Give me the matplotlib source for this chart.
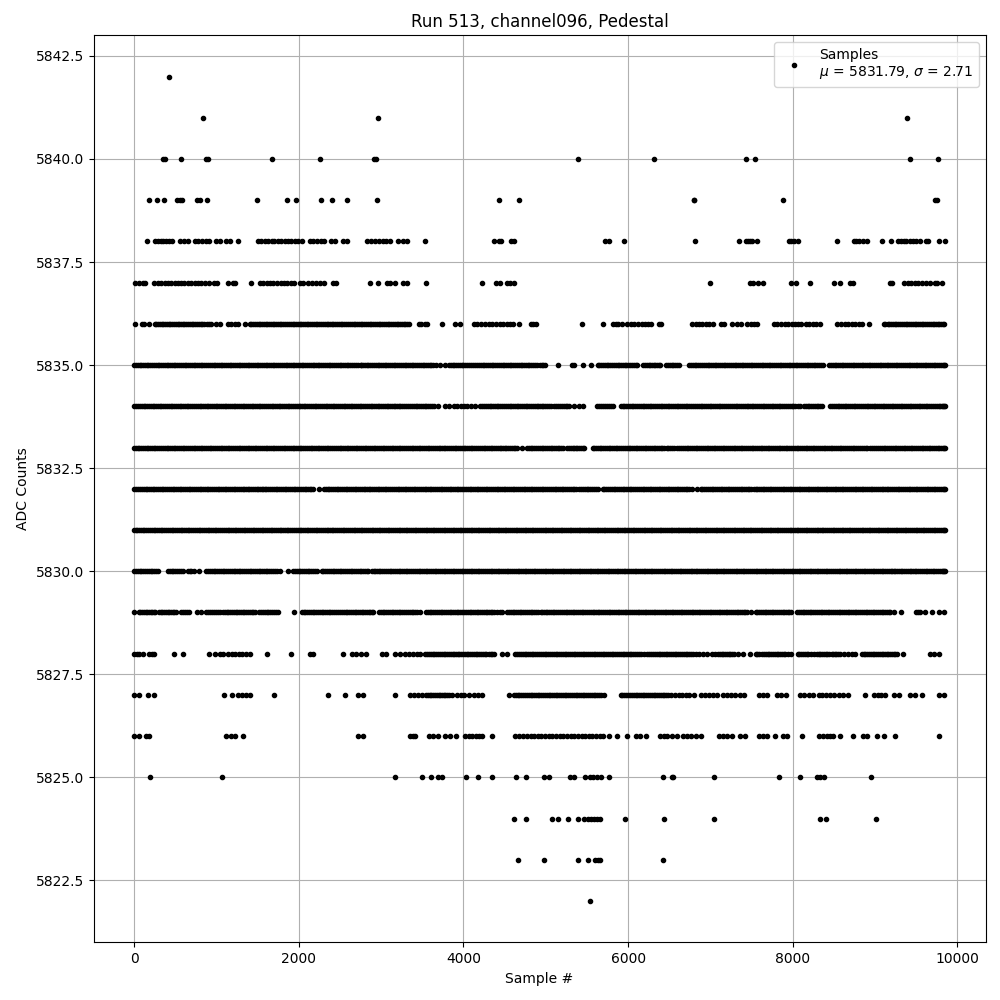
import numpy as np
import matplotlib
matplotlib.use("Agg")
import matplotlib.pyplot as plt

# sample numbers, one list per ADC level
s_5842 = [430]
s_5841 = [836, 2968, 9381]
s_5840 = [350, 380, 568, 870, 893, 1677, 2261, 2915, 2940, 5394, 6315, 7430, 7539, 9418, 9769]
s_5839 = [179, 276, 361, 520, 552, 580, 763, 804, 885, 1494, 1859, 1961, 2274, 2408, 2590, 2956,
          4429, 4673, 6795, 6805, 7879, 9721, 9749]
s_5838 = [154, 260, 290, 325, 350, 385, 420, 455, 564, 610, 650, 740, 780, 830, 870, 910, 999, 1047,
          1112, 1161, 1263, 1510, 1545, 1590, 1625, 1670, 1705, 1750, 1790, 1830, 1865, 1910, 1950, 1990, 2034,
          2136, 2175, 2220, 2265, 2306, 2387, 2444, 2541, 2590, 2834, 2875, 2930, 2975, 3020, 3065, 3110,
          3203, 3272, 3313, 3528, 4369, 4429, 4460, 4580, 4612, 5721, 5770, 5952, 6812, 7345, 7426, 7450,
          7480, 7510, 7560, 7951, 7980, 8010, 8060, 8533, 8739, 8770, 8800, 8850, 8900, 9078, 9187,
          9272, 9310, 9345, 9380, 9420, 9455, 9500, 9547, 9620, 9640, 9773, 9846]
s_5837 = [16, 57, 114, 138, 248, 285, 330, 370, 410, 450, 495, 530, 575, 610, 655, 690, 735, 775, 815, 860, 910,
          975, 1007, 1137, 1202, 1225, 1421, 1527, 1565, 1610, 1650, 1689, 1738, 1780, 1820, 1860, 1900, 1941,
          2010, 2050, 2115, 2160, 2205, 2260, 2306, 2420, 2452, 2866, 2960, 3069, 3110, 3171, 3264, 3313, 3540,
          4222, 4401, 4442, 4531, 4570, 4612, 6994, 7479, 7520, 7576, 7636, 7980, 8036, 8206, 8505, 8569,
          8699, 8731, 9175, 9204, 9353, 9400, 9440, 9485, 9520, 9570, 9620, 9668, 9729, 9757, 9810]
s_5836 = [16, 97, 126, 179, 250, 290, 335, 375, 420, 460, 505, 550, 590, 635, 680, 720, 765, 810, 850, 880, 910,
          940, 1000, 1047, 1141, 1181, 1220, 1263, 1344, 1405, 1450, 1490, 1535, 1580, 1620, 1660, 1705, 1750, 1790,
          1835, 1880, 1925, 1965, 2010, 2055, 2095, 2140, 2185, 2225, 2270, 2315, 2360, 2400, 2445, 2490, 2530,
          2575, 2620, 2665, 2705, 2750, 2795, 2840, 2880, 2925, 2970, 3015, 3055, 3100, 3145, 3190, 3230, 3275,
          3313, 3345, 3455, 3490, 3530, 3556, 3739, 3900, 3954, 4125, 4170, 4215, 4267, 4308, 4350, 4395, 4440,
          4480, 4525, 4565, 4604, 4673, 4815, 4850, 4876, 5438, 5697, 5822, 5850, 5879, 5931, 5985, 6030, 6075,
          6120, 6165, 6210, 6245, 6275, 6380, 6400, 6780, 6820, 6860, 6900, 6945, 6982, 7030, 7123, 7163, 7260,
          7325, 7373, 7446, 7490, 7530, 7568, 7770, 7810, 7855, 7900, 7945, 7985, 8030, 8065, 8100, 8157, 8200,
          8245, 8285, 8327, 8533, 8590, 8630, 8675, 8720, 8760, 8805, 8840, 8929, 9103, 9150, 9195, 9235, 9280,
          9325, 9370, 9410, 9455, 9500, 9545, 9585, 9630, 9675, 9720, 9760, 9800, 9838]
s_5836b = [272, 312, 355, 398, 440, 482, 528, 570, 612, 658, 700, 742, 788, 830, 1425, 1470, 1512, 1558, 1600, 1640,
           1682, 1728, 1770, 1812, 1858, 1902, 1945, 1988, 2032, 2075, 2118, 2162, 2205, 2248, 2292, 2338, 2380,
           2422, 2468, 2510, 2552, 2598, 2642, 2685, 2728, 2772, 2818, 2860, 2902, 2948, 2992, 3035, 3078, 3122,
           3168, 3210, 3252, 3295, 9125, 9172, 9215, 9258, 9302, 9348, 9390, 9432, 9478, 9522, 9565, 9608, 9652,
           9698, 9740, 9780, 9820]
s_5835 = [5, 45, 90, 130, 175, 220, 265, 305, 350, 395, 440, 480, 525, 570, 615, 655, 700, 745, 790, 830, 875,
          920, 965, 1005, 1050, 1095, 1140, 1180, 1225, 1270, 1315, 1355, 1400, 1445, 1490, 1530, 1575, 1620, 1665,
          1705, 1750, 1795, 1840, 1880, 1925, 1970, 2015, 2055, 2100, 2145, 2190, 2230, 2275, 2320, 2365, 2405,
          2450, 2495, 2540, 2580, 2625, 2670, 2715, 2760, 2805, 2845, 2890, 2935, 2980, 3020, 3065, 3110, 3155,
          3195, 3240, 3285, 3330, 3370, 3415, 3460, 3505, 3545, 3590, 3630, 3665, 3710, 3775, 3825, 3870, 3910,
          3955, 4000, 4045, 4090, 4140, 4170, 4210, 4255, 4300, 4345, 4385, 4430, 4475, 4520, 4560, 4605, 4650,
          4695, 4735, 4780, 4825, 4870, 4930, 4950, 4995, 5144, 5320, 5340, 5447, 5547, 5630, 5675, 5720, 5760,
          5805, 5850, 5895, 5935, 5980, 6025, 6070, 6105, 6180, 6225, 6270, 6310, 6355, 6390, 6460, 6505, 6550,
          6590, 6612, 6745, 6790, 6830, 6875, 6920, 6965, 7005, 7050, 7095, 7140, 7180, 7225, 7270, 7315, 7355,
          7400, 7445, 7490, 7530, 7575, 7620, 7665, 7705, 7750, 7795, 7840, 7880, 7925, 7970, 8015, 8055, 8100,
          8145, 8190, 8230, 8275, 8320, 8365, 8440, 8485, 8530, 8570, 8615, 8660, 8705, 8745, 8790, 8835, 8880,
          8920, 8965, 9010, 9055, 9095, 9140, 9185, 9230, 9270, 9315, 9360, 9405, 9445, 9490, 9535, 9580, 9620,
          9665, 9710, 9755, 9795, 9838, 9850]
s_5835b = [25, 68, 112, 152, 198, 242, 285, 328, 372, 418, 460, 502, 548, 592, 635, 678, 722, 768, 810, 852, 898,
           942, 985, 1028, 1072, 1118, 1160, 1202, 1248, 1292, 1335, 1378, 1422, 1468, 1510, 1552, 1598, 1642,
           1685, 1728, 1772, 1818, 1860, 1902, 1948, 1992, 2035, 2078, 2122, 2168, 2210, 2252, 2298, 2342, 2385,
           2428, 2472, 2518, 2560, 2602, 2648, 2692, 2760, 2782, 2825, 2868, 2912, 2958, 3000, 3042, 3088, 3132,
           3175, 3218, 3262, 3308, 3350, 3392, 3438, 3482, 3525, 3568, 3612, 3848, 3890, 3932, 3978, 4022, 4068,
           4115, 4190, 4232, 4278, 4322, 4365, 4408, 4452, 4498, 4540, 4582, 4628, 4672, 4715, 4758, 4802, 4848,
           4890, 4972, 5652, 5698, 5740, 5782, 5828, 5872, 5915, 5958, 6002, 6048, 6090, 6202, 6248, 6290, 6332,
           6372, 6482, 6528, 6570, 6768, 6810, 6852, 6898, 6942, 6985, 7028, 7072, 7118, 7160, 7202, 7248, 7292,
           7335, 7378, 7422, 7468, 7510, 7552, 7598, 7642, 7685, 7728, 7772, 7818, 7860, 7902, 7948, 7992, 8035,
           8078, 8122, 8168, 8210, 8252, 8298, 8342, 8462, 8508, 8550, 8592, 8638, 8682, 8725, 8768, 8812, 8858,
           8900, 8942, 8988, 9032, 9075, 9118, 9162, 9208, 9250, 9292, 9338, 9382, 9425, 9468, 9512, 9558, 9600,
           9642, 9688, 9732, 9775, 9818]
s_5834 = [5, 50, 95, 135, 180, 225, 270, 310, 355, 400, 445, 485, 530, 575, 620, 660, 705, 750, 795, 835, 880,
          925, 970, 1010, 1055, 1100, 1145, 1185, 1230, 1275, 1320, 1360, 1405, 1450, 1495, 1535, 1580, 1625, 1670,
          1710, 1755, 1800, 1845, 1885, 1930, 1975, 2020, 2060, 2105, 2150, 2195, 2235, 2280, 2325, 2370, 2410,
          2455, 2500, 2545, 2585, 2630, 2675, 2720, 2760, 2805, 2850, 2895, 2935, 2980, 3025, 3070, 3110, 3155,
          3190, 3235, 3280, 3330, 3354, 3374, 3420, 3465, 3510, 3550, 3595, 3638, 3686, 3780, 3825, 3881, 3922,
          3965, 4003, 4044, 4090, 4145, 4206, 4250, 4295, 4340, 4385, 4425, 4470, 4515, 4560, 4600, 4645, 4690,
          4735, 4775, 4820, 4865, 4910, 4950, 4995, 5040, 5063, 5103, 5150, 5195, 5240, 5285, 5346, 5400, 5447,
          5628, 5675, 5720, 5765, 5822, 5911, 5955, 6000, 6045, 6085, 6130, 6175, 6220, 6260, 6305, 6350, 6395,
          6416, 6436, 6480, 6525, 6570, 6610, 6655, 6700, 6739, 6768, 6815, 6860, 6900, 6945, 6990, 7035, 7075,
          7120, 7164, 7192, 7240, 7285, 7325, 7370, 7415, 7460, 7500, 7545, 7590, 7635, 7675, 7720, 7765, 7810,
          7850, 7895, 7940, 7985, 8025, 8093, 8133, 8180, 8225, 8265, 8310, 8355, 8456, 8500, 8545, 8585, 8630,
          8675, 8720, 8760, 8805, 8850, 8895, 8935, 8980, 9025, 9070, 9110, 9155, 9200, 9245, 9285, 9330, 9375,
          9420, 9460, 9505, 9550, 9595, 9635, 9680, 9725, 9770, 9810, 9838, 9850]
s_5834b = [28, 72, 115, 158, 202, 248, 290, 332, 378, 422, 465, 508, 552, 598, 640, 682, 728, 772, 815, 858, 902,
           948, 990, 1032, 1078, 1122, 1165, 1208, 1252, 1298, 1340, 1382, 1428, 1472, 1515, 1558, 1602, 1648,
           1690, 1732, 1778, 1822, 1865, 1908, 1952, 1998, 2040, 2082, 2128, 2172, 2215, 2258, 2302, 2348, 2390,
           2432, 2478, 2522, 2565, 2608, 2652, 2698, 2740, 2782, 2828, 2872, 2915, 2958, 3002, 3048, 3090, 3132,
           3172, 3212, 3258, 3305, 3398, 3442, 3488, 3530, 3572, 3615, 4228, 4272, 4318, 4362, 4405, 4448, 4492,
           4538, 4580, 4622, 4668, 4712, 4755, 4798, 4842, 4888, 4930, 4972, 5018, 5125, 5172, 5218, 5262, 5650,
           5698, 5742, 5795, 5932, 5978, 6022, 6065, 6108, 6152, 6198, 6240, 6282, 6328, 6372, 6458, 6502, 6548,
           6590, 6632, 6678, 6720, 6790, 6838, 6880, 6922, 6968, 7012, 7055, 7098, 7142, 7215, 7262, 7305, 7348,
           7392, 7438, 7480, 7522, 7568, 7612, 7655, 7698, 7742, 7788, 7830, 7872, 7918, 7962, 8005, 8060, 8155,
           8202, 8245, 8288, 8332, 8478, 8522, 8565, 8608, 8652, 8698, 8740, 8782, 8828, 8872, 8915, 8958, 9002,
           9048, 9090, 9132, 9178, 9222, 9265, 9308, 9352, 9398, 9440, 9482, 9528, 9572, 9615, 9658, 9702, 9748,
           9790, 9825]
s_5833 = [5, 45, 85, 130, 175, 220, 260, 305, 350, 395, 435, 480, 525, 570, 610, 655, 700, 745, 785, 830, 875,
          920, 960, 1005, 1050, 1095, 1135, 1180, 1225, 1270, 1310, 1355, 1400, 1445, 1485, 1530, 1575, 1620, 1660,
          1705, 1750, 1795, 1835, 1880, 1925, 1970, 2010, 2055, 2100, 2145, 2185, 2230, 2275, 2320, 2360, 2405,
          2450, 2495, 2535, 2580, 2625, 2670, 2710, 2755, 2800, 2845, 2885, 2930, 2975, 3020, 3060, 3105, 3150,
          3195, 3235, 3280, 3325, 3370, 3410, 3455, 3500, 3545, 3585, 3630, 3675, 3720, 3760, 3805, 3850, 3895,
          3935, 3980, 4025, 4070, 4110, 4155, 4200, 4245, 4285, 4330, 4375, 4420, 4460, 4500, 4545, 4590, 4630,
          4653, 4714, 4775, 4815, 4860, 4905, 4950, 4990, 5035, 5080, 5125, 5165, 5204, 5257, 5305, 5345, 5385,
          5425, 5467, 5568, 5610, 5655, 5695, 5740, 5785, 5830, 5870, 5915, 5960, 6005, 6045, 6090, 6135, 6180,
          6220, 6265, 6310, 6350, 6395, 6436, 6469, 6510, 6560, 6598, 6618, 6665, 6710, 6755, 6800, 6840, 6885,
          6930, 6975, 7015, 7060, 7105, 7150, 7190, 7235, 7280, 7325, 7365, 7410, 7455, 7500, 7540, 7585, 7630,
          7675, 7715, 7760, 7805, 7850, 7890, 7935, 7980, 8025, 8065, 8110, 8155, 8200, 8240, 8285, 8330, 8375,
          8415, 8460, 8505, 8550, 8590, 8635, 8680, 8725, 8765, 8820, 8865, 8905, 8961, 8982, 9040, 9080, 9125,
          9170, 9215, 9255, 9300, 9345, 9390, 9430, 9475, 9520, 9565, 9605, 9650, 9695, 9740, 9780, 9838, 9850]
s_5833b = [25, 65, 108, 152, 198, 240, 282, 328, 372, 415, 458, 502, 548, 590, 632, 678, 722, 765, 808, 852, 898,
           940, 982, 1028, 1072, 1115, 1158, 1202, 1248, 1290, 1332, 1378, 1422, 1465, 1508, 1552, 1598, 1640,
           1682, 1728, 1772, 1815, 1858, 1902, 1948, 1990, 2032, 2078, 2122, 2165, 2208, 2252, 2298, 2340, 2382,
           2428, 2472, 2515, 2558, 2602, 2648, 2690, 2732, 2778, 2822, 2865, 2908, 2952, 2998, 3040, 3082, 3128,
           3172, 3215, 3258, 3302, 3348, 3390, 3432, 3478, 3522, 3565, 3608, 3652, 3698, 3740, 3782, 3828, 3872,
           3915, 3958, 4002, 4048, 4090, 4132, 4178, 4222, 4265, 4308, 4352, 4398, 4440, 4480, 4522, 4568, 4610,
           4795, 4838, 4882, 4928, 4970, 5012, 5058, 5102, 5145, 5185, 5280, 5325, 5365, 5405, 5448, 5590, 5632,
           5675, 5718, 5762, 5808, 5850, 5892, 5938, 5982, 6025, 6068, 6112, 6158, 6200, 6242, 6288, 6330, 6372,
           6415, 6490, 6535, 6640, 6688, 6732, 6778, 6820, 6862, 6908, 6952, 6995, 7038, 7082, 7128, 7170, 7212,
           7258, 7302, 7345, 7388, 7432, 7478, 7520, 7562, 7608, 7652, 7695, 7738, 7782, 7828, 7870, 7912, 7958,
           8002, 8045, 8088, 8132, 8178, 8220, 8262, 8308, 8352, 8395, 8438, 8482, 8528, 8570, 8612, 8658, 8702,
           8745, 8792, 8842, 8885, 8932, 9010, 9060, 9102, 9148, 9192, 9235, 9278, 9322, 9368, 9410, 9452, 9498,
           9542, 9585, 9628, 9672, 9718, 9760, 9800, 9820]
s_5832 = [5, 50, 95, 140, 180, 225, 270, 315, 355, 400, 445, 490, 530, 575, 620, 665, 705, 750, 795, 840, 880,
          925, 970, 1015, 1055, 1100, 1145, 1190, 1230, 1275, 1320, 1360, 1400, 1445, 1490, 1530, 1567, 1587, 1630,
          1675, 1720, 1765, 1805, 1850, 1895, 1940, 1980, 2025, 2070, 2115, 2150, 2176, 2249, 2306, 2350, 2395,
          2440, 2480, 2525, 2570, 2615, 2655, 2700, 2745, 2790, 2830, 2866, 2887, 2935, 2980, 3025, 3065, 3110,
          3155, 3200, 3240, 3285, 3330, 3375, 3415, 3460, 3505, 3550, 3590, 3635, 3680, 3725, 3765, 3810, 3855,
          3900, 3940, 3985, 4030, 4075, 4115, 4160, 4205, 4250, 4290, 4335, 4380, 4425, 4465, 4510, 4555, 4600,
          4640, 4685, 4730, 4775, 4815, 4860, 4905, 4950, 4990, 5035, 5085, 5130, 5170, 5215, 5260, 5305, 5345,
          5366, 5406, 5450, 5495, 5540, 5580, 5608, 5636, 5689, 5735, 5780, 5825, 5865, 5910, 5955, 6000, 6040,
          6085, 6130, 6175, 6215, 6260, 6305, 6350, 6390, 6435, 6480, 6525, 6565, 6610, 6655, 6700, 6739, 6780,
          6840, 6881, 6925, 6970, 7015, 7055, 7100, 7145, 7190, 7230, 7275, 7320, 7365, 7405, 7450, 7487, 7527,
          7570, 7588, 7608, 7655, 7700, 7740, 7785, 7830, 7875, 7915, 7960, 8005, 8050, 8090, 8135, 8180, 8225,
          8265, 8310, 8355, 8400, 8440, 8485, 8530, 8575, 8615, 8660, 8705, 8750, 8790, 8835, 8880, 8925, 8965,
          9010, 9055, 9100, 9140, 9185, 9230, 9275, 9315, 9360, 9405, 9450, 9490, 9535, 9580, 9625, 9665, 9710,
          9755, 9800, 9838, 9850]
s_5832b = [28, 72, 118, 160, 202, 248, 292, 335, 378, 422, 468, 510, 552, 598, 642, 685, 728, 772, 818, 860, 902,
           948, 992, 1035, 1078, 1122, 1168, 1210, 1252, 1298, 1340, 1380, 1422, 1468, 1510, 1550, 1608, 1652,
           1698, 1742, 1785, 1828, 1872, 1918, 1960, 2002, 2048, 2092, 2132, 2328, 2372, 2418, 2460, 2502, 2548,
           2592, 2635, 2678, 2722, 2768, 2810, 2848, 2910, 2958, 3002, 3045, 3088, 3132, 3178, 3220, 3262, 3308,
           3352, 3395, 3438, 3482, 3528, 3570, 3612, 3658, 3702, 3745, 3788, 3832, 3878, 3920, 3962, 4008, 4052,
           4095, 4138, 4182, 4228, 4270, 4312, 4358, 4402, 4445, 4488, 4532, 4578, 4620, 4662, 4708, 4752, 4795,
           4838, 4882, 4928, 4970, 5012, 5060, 5108, 5150, 5192, 5238, 5282, 5325, 5428, 5472, 5518, 5560, 5712,
           5758, 5802, 5845, 5888, 5932, 5978, 6020, 6062, 6108, 6152, 6195, 6238, 6282, 6328, 6370, 6412, 6458,
           6502, 6545, 6588, 6632, 6678, 6720, 6903, 6948, 6992, 7035, 7078, 7122, 7168, 7210, 7252, 7298, 7342,
           7385, 7428, 7470, 7548, 7632, 7678, 7720, 7762, 7808, 7852, 7895, 7938, 7982, 8028, 8070, 8112, 8158,
           8202, 8245, 8288, 8332, 8378, 8420, 8462, 8508, 8552, 8595, 8638, 8682, 8728, 8770, 8812, 8858, 8902,
           8945, 8988, 9032, 9078, 9120, 9162, 9208, 9252, 9295, 9338, 9382, 9428, 9470, 9512, 9558, 9602, 9645,
           9688, 9732, 9778, 9820]
s_5831 = [5, 40, 85, 125, 170, 215, 260, 300, 345, 390, 435, 475, 520, 565, 610, 650, 695, 740, 785, 825, 870,
          915, 960, 1000, 1045, 1090, 1135, 1175, 1220, 1265, 1310, 1350, 1395, 1440, 1485, 1525, 1570, 1615, 1660,
          1700, 1745, 1790, 1835, 1875, 1920, 1965, 2010, 2050, 2095, 2140, 2185, 2225, 2270, 2315, 2360, 2400,
          2445, 2490, 2535, 2575, 2620, 2665, 2710, 2750, 2795, 2840, 2885, 2925, 2970, 3015, 3060, 3100, 3145,
          3190, 3235, 3275, 3320, 3365, 3410, 3450, 3495, 3540, 3585, 3625, 3670, 3715, 3760, 3800, 3845, 3890,
          3935, 3975, 4020, 4065, 4110, 4150, 4195, 4240, 4285, 4325, 4370, 4415, 4460, 4500, 4545, 4590, 4635,
          4675, 4720, 4765, 4810, 4850, 4895, 4940, 4985, 5025, 5070, 5115, 5160, 5200, 5245, 5290, 5335, 5375,
          5420, 5465, 5510, 5550, 5595, 5640, 5685, 5725, 5770, 5815, 5860, 5900, 5945, 5990, 6035, 6075, 6120,
          6165, 6210, 6250, 6295, 6340, 6385, 6425, 6470, 6515, 6560, 6600, 6645, 6690, 6735, 6775, 6820, 6865,
          6910, 6950, 6995, 7040, 7085, 7125, 7170, 7215, 7260, 7300, 7345, 7390, 7435, 7475, 7520, 7565, 7610,
          7650, 7695, 7740, 7785, 7825, 7870, 7915, 7960, 8000, 8045, 8090, 8135, 8175, 8220, 8265, 8310, 8350,
          8395, 8440, 8485, 8525, 8570, 8615, 8660, 8700, 8745, 8790, 8835, 8875, 8920, 8965, 9010, 9050, 9095,
          9140, 9185, 9225, 9270, 9315, 9360, 9400, 9445, 9490, 9535, 9575, 9620, 9665, 9710, 9750, 9795, 9838, 9850]
s_5831b = [22, 62, 105, 148, 192, 238, 280, 322, 368, 412, 455, 498, 542, 588, 630, 672, 718, 762, 805, 848, 892,
           938, 980, 1022, 1068, 1112, 1155, 1198, 1242, 1288, 1330, 1372, 1418, 1462, 1505, 1548, 1592, 1638,
           1680, 1722, 1768, 1812, 1855, 1898, 1942, 1988, 2030, 2072, 2118, 2162, 2205, 2248, 2292, 2338, 2380,
           2422, 2468, 2512, 2555, 2598, 2642, 2688, 2730, 2772, 2818, 2862, 2905, 2948, 2992, 3038, 3080, 3122,
           3168, 3212, 3255, 3298, 3342, 3388, 3430, 3472, 3518, 3562, 3605, 3648, 3692, 3738, 3780, 3822, 3868,
           3912, 3955, 3998, 4042, 4088, 4130, 4172, 4218, 4262, 4305, 4348, 4392, 4438, 4480, 4522, 4568, 4612,
           4655, 4698, 4742, 4788, 4830, 4872, 4918, 4962, 5005, 5048, 5092, 5138, 5180, 5222, 5268, 5312, 5355,
           5398, 5442, 5488, 5530, 5572, 5618, 5662, 5705, 5748, 5792, 5838, 5880, 5922, 5968, 6012, 6055, 6098,
           6142, 6188, 6230, 6272, 6318, 6362, 6405, 6448, 6492, 6538, 6580, 6622, 6668, 6712, 6755, 6798, 6842,
           6888, 6930, 6972, 7018, 7062, 7105, 7148, 7192, 7238, 7280, 7322, 7368, 7412, 7455, 7498, 7542, 7588,
           7630, 7672, 7718, 7762, 7805, 7848, 7892, 7938, 7980, 8022, 8068, 8112, 8155, 8198, 8242, 8288, 8330,
           8372, 8418, 8462, 8505, 8548, 8592, 8638, 8680, 8722, 8768, 8812, 8855, 8898, 8942, 8988, 9030, 9072,
           9118, 9162, 9205, 9248, 9292, 9338, 9380, 9422, 9468, 9512, 9555, 9598, 9642, 9688, 9730, 9772, 9818]
s_5830 = [5, 45, 90, 135, 180, 220, 265, 288, 410, 455, 500, 545, 593, 654, 695, 723, 788, 877, 920, 965, 1010,
          1055, 1095, 1140, 1185, 1230, 1270, 1315, 1360, 1405, 1445, 1490, 1535, 1580, 1620, 1665, 1710, 1770,
          1872, 1933, 1975, 2020, 2065, 2110, 2150, 2195, 2217, 2278, 2320, 2365, 2410, 2455, 2495, 2540, 2585,
          2630, 2670, 2715, 2760, 2805, 2846, 2887, 2930, 2970, 3015, 3060, 3105, 3145, 3190, 3235, 3280, 3320,
          3365, 3410, 3455, 3495, 3540, 3585, 3630, 3670, 3715, 3760, 3805, 3845, 3890, 3935, 3980, 4020, 4065,
          4110, 4155, 4195, 4240, 4285, 4330, 4370, 4415, 4460, 4505, 4545, 4590, 4635, 4680, 4720, 4765, 4810,
          4855, 4895, 4940, 4985, 5030, 5070, 5115, 5160, 5205, 5245, 5290, 5335, 5380, 5420, 5465, 5510, 5555,
          5595, 5640, 5685, 5730, 5770, 5815, 5860, 5905, 5945, 5990, 6035, 6080, 6120, 6165, 6210, 6255, 6295,
          6340, 6385, 6430, 6470, 6515, 6560, 6605, 6645, 6690, 6735, 6780, 6820, 6865, 6910, 6955, 6995, 7040,
          7085, 7130, 7170, 7215, 7260, 7305, 7345, 7390, 7435, 7480, 7527, 7547, 7590, 7635, 7680, 7720, 7765,
          7810, 7855, 7895, 7940, 7985, 8030, 8070, 8115, 8160, 8205, 8245, 8290, 8335, 8380, 8420, 8465, 8510,
          8555, 8595, 8640, 8685, 8730, 8770, 8815, 8860, 8905, 8945, 8990, 9035, 9080, 9120, 9165, 9210, 9244,
          9264, 9310, 9350, 9395, 9440, 9485, 9519, 9548, 9590, 9635, 9680, 9720, 9765, 9810, 9838, 9850]
s_5830b = [25, 68, 112, 158, 200, 242, 432, 478, 522, 568, 675, 898, 942, 988, 1032, 1075, 1118, 1162, 1208, 1250,
           1292, 1338, 1382, 1425, 1468, 1512, 1558, 1600, 1642, 1688, 1735, 1955, 1998, 2042, 2088, 2130, 2172,
           2298, 2342, 2388, 2432, 2475, 2518, 2562, 2608, 2650, 2692, 2738, 2782, 2825, 2908, 2950, 2992, 3038,
           3082, 3125, 3168, 3212, 3258, 3300, 3342, 3388, 3432, 3475, 3518, 3562, 3608, 3650, 3692, 3738, 3782,
           3825, 3868, 3912, 3958, 4000, 4042, 4088, 4132, 4175, 4218, 4262, 4308, 4350, 4392, 4438, 4482, 4525,
           4568, 4612, 4658, 4700, 4742, 4788, 4832, 4875, 4918, 4962, 5008, 5050, 5092, 5138, 5182, 5225, 5268,
           5312, 5358, 5400, 5442, 5488, 5532, 5575, 5618, 5662, 5708, 5750, 5792, 5838, 5882, 5925, 5968, 6012,
           6058, 6100, 6142, 6188, 6232, 6275, 6318, 6362, 6408, 6450, 6492, 6538, 6582, 6625, 6668, 6712, 6758,
           6800, 6842, 6888, 6932, 6975, 7018, 7062, 7108, 7150, 7192, 7238, 7282, 7325, 7368, 7412, 7458, 7500,
           7568, 7612, 7658, 7700, 7742, 7788, 7832, 7875, 7918, 7962, 8008, 8050, 8092, 8138, 8182, 8225, 8268,
           8312, 8358, 8400, 8442, 8488, 8532, 8575, 8618, 8662, 8708, 8750, 8792, 8838, 8882, 8925, 8968, 9012,
           9058, 9100, 9142, 9188, 9228, 9288, 9330, 9372, 9418, 9462, 9502, 9570, 9612, 9658, 9700, 9742, 9788,
           9825]
s_5829 = [0, 57, 100, 140, 180, 220, 260, 300, 345, 385, 430, 470, 512, 572, 620, 666, 763, 816, 877, 925, 970,
          1015, 1039, 1080, 1125, 1165, 1210, 1255, 1300, 1340, 1385, 1430, 1466, 1518, 1560, 1610, 1650, 1700, 1750,
          1945, 2034, 2080, 2125, 2170, 2210, 2255, 2300, 2345, 2385, 2430, 2475, 2525, 2570, 2610, 2655, 2700,
          2745, 2785, 2830, 2870, 2907, 2980, 3020, 3060, 3105, 3150, 3195, 3235, 3280, 3325, 3370, 3410, 3475,
          3548, 3590, 3635, 3680, 3725, 3765, 3810, 3855, 3900, 3940, 3985, 4030, 4075, 4115, 4160, 4205, 4250,
          4290, 4335, 4369, 4409, 4470, 4531, 4575, 4620, 4660, 4705, 4750, 4795, 4835, 4880, 4937, 4975, 5020,
          5065, 5105, 5150, 5195, 5240, 5280, 5325, 5370, 5415, 5455, 5500, 5545, 5590, 5630, 5675, 5720, 5765,
          5805, 5850, 5895, 5940, 5980, 6025, 6070, 6115, 6155, 6200, 6245, 6290, 6330, 6375, 6420, 6465, 6505,
          6550, 6595, 6640, 6680, 6725, 6770, 6815, 6855, 6900, 6945, 6990, 7030, 7075, 7120, 7165, 7205, 7250,
          7295, 7340, 7380, 7425, 7446, 7487, 7547, 7590, 7635, 7680, 7720, 7765, 7810, 7855, 7895, 7940, 7972,
          8052, 8095, 8140, 8185, 8225, 8270, 8315, 8360, 8400, 8445, 8490, 8535, 8575, 8620, 8665, 8710, 8750,
          8795, 8840, 8885, 8925, 8970, 9015, 9060, 9100, 9145, 9184, 9224, 9313, 9499, 9525, 9547, 9608, 9689,
          9781, 9838]
s_5829b = [78, 120, 160, 200, 240, 322, 365, 408, 450, 490, 595, 640, 900, 948, 992, 1102, 1145, 1188, 1232, 1278,
           1320, 1362, 1408, 1450, 1540, 1585, 1630, 1675, 1725, 2058, 2102, 2148, 2190, 2232, 2278, 2322, 2365,
           2408, 2452, 2500, 2548, 2590, 2632, 2678, 2722, 2765, 2808, 2850, 2890, 3000, 3040, 3082, 3128, 3172,
           3215, 3258, 3302, 3348, 3390, 3442, 3568, 3612, 3658, 3702, 3745, 3788, 3832, 3878, 3920, 3962, 4008,
           4052, 4095, 4138, 4182, 4228, 4270, 4312, 4352, 4440, 4552, 4598, 4640, 4682, 4728, 4772, 4815, 4858,
           4908, 4958, 4998, 5042, 5085, 5128, 5172, 5218, 5260, 5302, 5348, 5392, 5435, 5478, 5522, 5568, 5610,
           5652, 5698, 5742, 5785, 5828, 5872, 5918, 5960, 6002, 6048, 6092, 6135, 6178, 6222, 6268, 6310, 6352,
           6398, 6442, 6485, 6528, 6572, 6618, 6660, 6702, 6748, 6792, 6835, 6878, 6922, 6968, 7010, 7052, 7098,
           7142, 7185, 7228, 7272, 7318, 7360, 7402, 7568, 7612, 7658, 7700, 7742, 7788, 7832, 7875, 7918, 7955,
           8072, 8118, 8162, 8205, 8248, 8292, 8338, 8380, 8422, 8468, 8512, 8555, 8598, 8642, 8688, 8730, 8772,
           8818, 8862, 8905, 8948, 8992, 9038, 9080, 9122, 9165]
s_5828 = [0, 30, 60, 105, 187, 220, 248, 483, 593, 909, 978, 1039, 1080, 1141, 1190, 1230, 1270, 1310, 1360, 1405,
          1616, 1908, 2136, 2176, 2533, 2643, 2700, 2753, 2818, 3008, 3061, 3171, 3230, 3293, 3345, 3390, 3435,
          3475, 3536, 3580, 3625, 3670, 3715, 3760, 3800, 3845, 3890, 3930, 3975, 4020, 4060, 4100, 4150, 4190,
          4235, 4280, 4330, 4369, 4470, 4531, 4632, 4680, 4720, 4765, 4810, 4850, 4895, 4937, 4985, 5030, 5075,
          5120, 5160, 5205, 5250, 5295, 5340, 5380, 5425, 5470, 5515, 5560, 5600, 5645, 5690, 5735, 5780, 5820,
          5865, 5910, 5955, 5995, 6040, 6085, 6130, 6194, 6234, 6280, 6325, 6370, 6410, 6455, 6500, 6545, 6585,
          6630, 6675, 6720, 6760, 6820, 6860, 6915, 6960, 7022, 7050, 7090, 7135, 7180, 7220, 7265, 7333, 7394,
          7479, 7547, 7590, 7650, 7695, 7735, 7780, 7825, 7870, 7910, 7972, 8060, 8100, 8150, 8190, 8254, 8295,
          8335, 8380, 8420, 8470, 8510, 8550, 8578, 8626, 8670, 8715, 8760, 8840, 8880, 8925, 8970, 9015, 9055,
          9100, 9140, 9185, 9225, 9264, 9333, 9660, 9717, 9781]
s_5828b = [3558, 3602, 3648, 3692, 3738, 3780, 3822, 3868, 3910, 3952, 3998, 4040, 4080, 4125, 4170, 4212, 4258,
           4305, 4350, 4655, 4700, 4742, 4788, 4830, 4872, 4918, 4962, 5008, 5052, 5098, 5140, 5182, 5228, 5272,
           5318, 5360, 5402, 5448, 5492, 5538, 5580, 5622, 5668, 5712, 5758, 5800, 5842, 5888, 5932, 5975, 6018,
           6062, 6108, 6160, 6258, 6302, 6348, 6390, 6432, 6478, 6522, 6565, 6608, 6652, 6698, 6740, 6790, 7110,
           7158, 7200, 7242, 7290, 7568, 7620, 7672, 7715, 7758, 7802, 7848, 7890, 7940, 8080, 8125, 8170, 8220,
           8315, 8358, 8400, 8445, 8490, 8530, 8860, 8902, 8948, 8992, 9035, 9078, 9120, 9162, 9205, 9245]
s_5827 = [0, 57, 166, 240, 1092, 1190, 1263, 1315, 1364, 1413, 1701, 2359, 2566, 2724, 2777, 3175, 3354, 3400, 3450,
          3496, 3548, 3590, 3630, 3675, 3720, 3760, 3800, 3861, 3922, 3965, 4010, 4064, 4125, 4175, 4226, 4551,
          4612, 4640, 4680, 4725, 4770, 4815, 4860, 4900, 4945, 4990, 5035, 5075, 5120, 5165, 5210, 5250, 5295,
          5340, 5385, 5425, 5470, 5515, 5560, 5600, 5645, 5709, 5911, 5955, 6000, 6045, 6090, 6135, 6175, 6220,
          6265, 6310, 6350, 6395, 6440, 6485, 6525, 6570, 6615, 6660, 6700, 6745, 6800, 6889, 6935, 6980, 7030,
          7075, 7151, 7200, 7244, 7297, 7353, 7406, 7588, 7635, 7681, 7802, 7860, 7923, 8085, 8140, 8194, 8242,
          8315, 8360, 8400, 8450, 8497, 8557, 8610, 8670, 8872, 8981, 9030, 9075, 9123, 9224, 9285, 9418, 9478,
          9567, 9777, 9838]
s_5827b = [3570, 3610, 3652, 3698, 3740, 3782, 3830, 4660, 4702, 4748, 4792, 4838, 4880, 4922, 4968, 5012, 5055,
           5098, 5142, 5188, 5230, 5272, 5318, 5362, 5405, 5448, 5492, 5538, 5580, 5622, 5668, 5930, 5975, 6022,
           6068, 6112, 6155, 6198, 6242, 6288, 6330, 6372, 6418, 6462]
s_5826 = [4, 57, 146, 179, 1121, 1181, 1222, 1324, 2724, 2777, 3354, 3385, 3415, 3585, 3635, 3686, 3780, 3833, 3914,
          4024, 4065, 4110, 4150, 4190, 4226, 4348, 4632, 4680, 4725, 4770, 4815, 4860, 4905, 4945, 4990, 5035,
          5080, 5125, 5170, 5215, 5260, 5305, 5345, 5390, 5435, 5480, 5525, 5565, 5610, 5655, 5689, 5770, 5871,
          5992, 6093, 6150, 6214, 6388, 6430, 6469, 6529, 6590, 6667, 6710, 6760, 6820, 6889, 7103, 7150, 7205,
          7265, 7353, 7414, 7588, 7640, 7689, 7782, 7883, 7931, 8113, 8323, 8370, 8410, 8450, 8490, 8578, 8727,
          8852, 8901, 9022, 9103, 9236, 9781]
s_5825 = [195, 1068, 3175, 3496, 3605, 3686, 3739, 4028, 4174, 4348, 4636, 4758, 4974, 5043, 5297, 5337, 5479,
          5539, 5568, 5628, 5669, 5770, 6424, 6529, 6549, 7042, 7830, 8085, 8295, 8335, 8376, 8945]
s_5824 = [4612, 4758, 5075, 5152, 5273, 5394, 5467, 5507, 5547, 5588, 5628, 5653, 5964, 6436, 7042, 8327, 8400, 9006]
s_5823 = [4661, 4974, 5386, 5507, 5596, 5636, 5653, 6424]
s_5822 = [5539]

levels = [5842, 5841, 5840, 5839, 5838, 5837, 5836, 5836, 5835, 5835, 5834, 5834, 5833, 5833, 5832, 5832, 5831,
          5831, 5830, 5830, 5829, 5829, 5828, 5828, 5827, 5827, 5826, 5825, 5824, 5823, 5822]
samples = [s_5842, s_5841, s_5840, s_5839, s_5838, s_5837, s_5836, s_5836b, s_5835, s_5835b, s_5834, s_5834b,
           s_5833, s_5833b, s_5832, s_5832b, s_5831, s_5831b, s_5830, s_5830b, s_5829, s_5829b, s_5828, s_5828b,
           s_5827, s_5827b, s_5826, s_5825, s_5824, s_5823, s_5822]

x = np.concatenate([np.array(s, dtype=float) for s in samples])
y = np.concatenate([np.full(len(s), lev, dtype=float) for s, lev in zip(samples, levels)])

fig, ax = plt.subplots(figsize=(10, 10), dpi=100)
ax.plot(x, y, "k.", label="Samples\n$\\mu$ = 5831.79, $\\sigma$ = 2.71")
ax.set_title("Run 513, channel096, Pedestal")
ax.set_xlabel("Sample #")
ax.set_ylabel("ADC Counts")
ax.legend(loc="upper right")
ax.grid(True)
fig.subplots_adjust(left=0.0935, right=0.9857, top=0.9647, bottom=0.0577)
fig.savefig("out.png")
